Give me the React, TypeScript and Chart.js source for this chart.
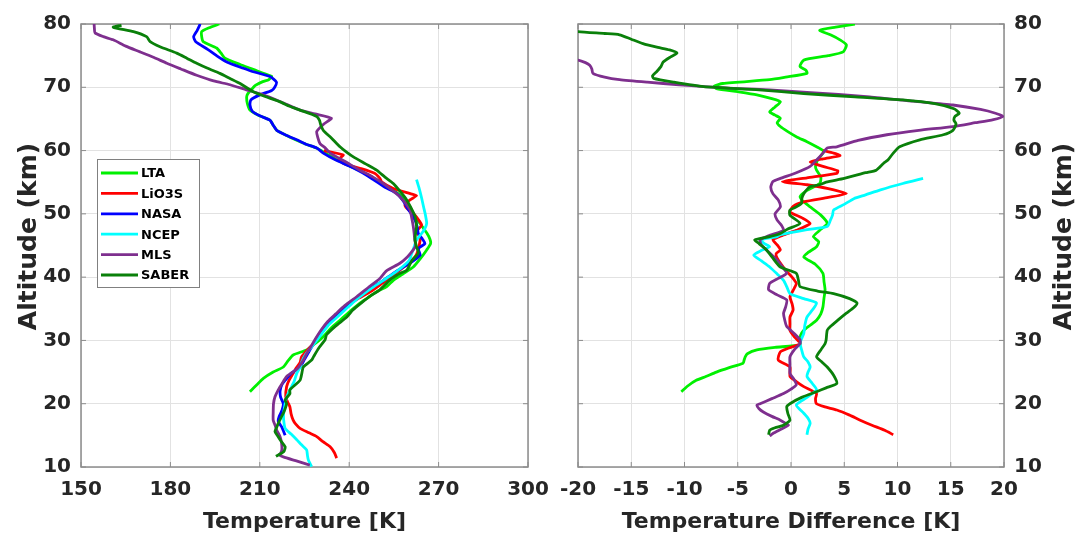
import React, { useEffect, useRef } from 'react';
import { Chart, registerables } from 'chart.js';

Chart.register(...registerables);

// ---------- Left panel: temperature profiles, pairs of [altitude km, temperature K] ----------
const ltaProfile: [number, number][] = [
  [80, 196.4], [79.4, 193], [78.8, 190.5], [78, 190.5], [77.2, 191], [76.2, 195.5], [75.4, 197], [74.6, 198.3],
  [73.6, 203.4], [72.8, 208], [72.2, 211.2], [71.7, 214], [71.2, 213], [70.9, 211], [70.3, 208.5], [69.7, 207.3],
  [69, 206], [68.5, 205.6], [67.5, 205.8], [66.4, 206.7], [65.6, 209.5], [64.8, 213.4], [64, 214.5], [63.2, 215.7],
  [62.5, 218.5], [61.7, 222], [61, 225.5], [60.4, 229], [59.6, 232], [58.5, 236], [57.5, 240.5], [56.5, 245],
  [55.4, 249], [54.2, 253], [53.2, 256.5], [52, 259], [51, 260.5], [50, 261.5], [49, 263], [48, 264.5], [47, 266],
  [46, 267.1], [45.3, 267.3], [44.3, 266], [43, 264], [41.6, 261.5], [40.5, 258], [39.5, 254.8], [38.5, 252.6],
  [37.7, 249.2], [36.8, 246.5], [35.9, 243.6], [34.5, 240], [33.2, 236.9], [32, 234], [30.6, 231.3], [29.5, 228.5],
  [28.5, 225.7], [27.7, 221.2], [26.8, 219.5], [25.8, 217.9], [25, 214.5], [24, 211.2], [23, 209], [21.9, 206.7],
];
const lio3sProfile: [number, number][] = [
  [60, 231.5], [59.3, 238], [58.6, 236.5], [57.9, 238.5], [57.2, 243.6], [56.4, 248.5], [55.6, 250.3], [55, 251],
  [54, 254.8], [53.2, 260.5], [52.9, 262.6], [52.2, 260.4], [51.4, 258.7], [50.8, 259.5], [49.8, 262.1], [48.9, 263.5],
  [48.2, 264.3], [47.2, 262.6], [46.5, 263.5], [45.9, 263.8], [45, 263.5], [44.3, 263.2], [43.2, 262.1], [42.2, 260],
  [41.2, 257.2], [40.2, 254.5], [39, 251], [37.8, 247.5], [36.6, 243], [35.5, 239.5], [34.2, 236], [33, 233.2],
  [31.8, 231.1], [30.6, 229.3], [29.5, 228], [28.5, 226], [27.4, 224], [26.5, 223.5], [25.5, 222], [24.8, 221.2],
  [23.7, 219.8], [22.7, 219], [21.1, 218.7], [20.3, 219.3], [19.5, 220.1], [18.4, 220.5], [17.4, 221.2], [16.8, 222],
  [16.1, 223.5], [15.4, 226.5], [14.8, 229.1], [14, 231.2], [13.2, 233.6], [12.3, 235], [11.4, 235.8],
];
const nasaProfile: [number, number][] = [
  [80, 190], [79, 189], [78, 187.8], [77.2, 188.5], [76, 192.5], [75, 195.5], [74, 198.9], [73, 204.5], [72.5, 207.5],
  [71.7, 213.4], [70.8, 215.6], [70, 215], [69.5, 214], [68.8, 210], [68, 207], [67.2, 206.7], [66.2, 207.5],
  [65.5, 210], [64.8, 213.4], [64, 214.5], [63.2, 215.7], [62.5, 218.5], [61.7, 222.4], [61, 225.5], [60.4, 229.1],
  [59.6, 231.3], [58.5, 235.5], [57.5, 240.3], [56.5, 244.5], [55.4, 248.1], [54.2, 252], [53.2, 256], [52, 258.2],
  [51.1, 259.3], [50, 260.8], [49, 262.1], [48, 262.8], [46.9, 263.2], [46, 264.6], [45.3, 265.4], [44.5, 263.2],
  [43.5, 263.8], [42.2, 260.4], [41.4, 257.5], [40.6, 254.8], [39.5, 251.5], [38.5, 248.1], [37.5, 245], [36.4, 241.4],
  [35, 238], [33.7, 234.7], [32.4, 232.3], [31.1, 230.2], [29.8, 228.5], [28.5, 226.8], [27, 225], [25.8, 223.5],
  [24.8, 220.5], [23.7, 218.5], [23, 217.4], [22, 216.8], [21, 217], [20, 217.9], [19, 217.5], [18, 216.5],
  [17.2, 216.2], [16.2, 217.5], [15.6, 218], [15, 218.5],
];
const ncepProfile: [number, number][] = [
  [55.4, 262.6], [54, 263.5], [52.5, 264.3], [51, 265], [50, 265.5], [48.5, 266], [47.6, 265.3], [46.9, 264.3],
  [45.8, 262.5], [44.8, 261.8], [43.8, 261], [42.7, 260.2], [41.6, 257.8], [40.5, 254.7], [39.5, 251.5], [38.5, 248.3],
  [37.4, 245], [36.3, 242], [35, 239], [33.7, 236], [32.4, 233], [31, 230.7], [29.8, 228.8], [28.5, 226.5],
  [27.5, 225], [26.5, 224], [25.8, 223.6], [24.8, 222.4], [23.5, 221.5], [22.2, 220.1], [21, 219], [20, 218.5],
  [18.5, 218], [17.5, 218], [16.1, 218.5], [15.2, 220.5], [14.3, 222.4], [13.5, 224], [12.7, 225.7], [11.8, 226],
  [11.1, 226.3], [10.05, 227.4],
];
const mlsProfile: [number, number][] = [
  [80, 154.4], [79.3, 154.5], [78.6, 154.7], [78, 157.5], [77.5, 160.8], [76.5, 165], [75.6, 169.8], [74.7, 174.5],
  [73.8, 178.8], [72.9, 183.5], [71.9, 188.8], [71, 194.5], [70.4, 200], [69.6, 205.5], [68.8, 211.2], [67.6, 217.5],
  [66.4, 223.5], [65.8, 228.5], [65.1, 234], [64.2, 231.5], [63, 229.1], [62, 229.5], [61.1, 230.2], [60.4, 232],
  [59.6, 233.6], [58.3, 238.5], [56.9, 243.6], [55.8, 248], [54.8, 251.4], [53.7, 254.5], [52.7, 257], [51.6, 259],
  [50.6, 260.4], [49.3, 261], [48, 261.5], [46.9, 261.8], [45.9, 262], [45, 262.3], [44.3, 261.5], [43.2, 259.5],
  [42.2, 257], [41, 252.5], [39.8, 250.3], [38.4, 246.5], [36.9, 242.5], [35.5, 238.5], [34.2, 235.5], [33, 232.8],
  [31.8, 230.8], [30.5, 229], [29.3, 227.5], [28, 225.8], [26.8, 224.5], [25.5, 222.5], [24.3, 219], [23.2, 217.5],
  [22.2, 216.2], [21.1, 215.1], [20, 214.6], [18.7, 214.5], [17.4, 214.5], [16.5, 215.2], [15.8, 215.7], [14.8, 216.8],
  [13.8, 217.3], [12.7, 217.4], [12.2, 217], [11.9, 216.5], [11.6, 217.9], [11, 222], [10.3, 226.8],
];
const saberProfile: [number, number][] = [
  [79.8, 163.6], [79.5, 160.8], [78.8, 167.6], [78, 172], [77.2, 173.2], [76.4, 176.5], [75.4, 182.1], [74.6, 185.5],
  [73.8, 188.8], [73, 192.5], [72.2, 196.6], [71.4, 200], [70.6, 203.4], [69.3, 207.8], [68.5, 212], [67.7, 216.8],
  [67, 220], [66.4, 223.5], [65.4, 229.1], [64.8, 230], [64, 230.5], [63.2, 231.3], [62, 234], [60.6, 236.9],
  [59.8, 239], [59, 241.4], [57.9, 245.5], [56.9, 249.2], [55.8, 252], [54.8, 254.8], [53.5, 257.2], [52.2, 259.3],
  [50.9, 260.8], [49.6, 262.1], [48, 262.6], [47, 262.3], [45.9, 262.1], [44.8, 262.6], [43.8, 263.2], [42.6, 261],
  [41.1, 259.3], [40.6, 257], [39.5, 253.5], [38, 250.3], [37, 247], [35.9, 244], [34.8, 241.2], [33.7, 239.2],
  [32.3, 235.5], [30.9, 232.4], [30.1, 231.9], [28.8, 229.8], [27.4, 228], [26.9, 227.4], [25.8, 224.6], [24.8, 224.1],
  [23.7, 223.5], [22.2, 220.1], [21.6, 220.1], [20.6, 218.5], [20, 219], [19.2, 218.5], [18.5, 217.9], [17.7, 217],
  [16.9, 216.2], [16.2, 215.6], [15.6, 215.1], [14.9, 216], [14.3, 216.8], [13.2, 218.5], [12.4, 218], [11.7, 215.4],
];

// ---------- Right panel: temperature differences, pairs of [altitude km, difference K] ----------
const ltaDiff: [number, number][] = [
  [80, 6.0], [79.5, 4.2], [79, 2.7], [78.3, 3.7], [77.5, 4.6], [76.7, 5.2], [75.6, 4.9], [75, 3.5], [74.3, 1.2],
  [73.3, 0.85], [72.7, 1.4], [72.2, 1.5], [71.6, -0.5], [71.2, -2], [70.6, -6.4], [70.2, -7.2], [69.8, -7], [69.3, -5],
  [68.8, -3.2], [68.2, -1.8], [67.7, -1], [66.9, -1.5], [66.1, -2], [65.6, -1.5], [65.1, -1], [64.4, -1.3], [63.8, -1],
  [63, -0.3], [62.2, 0.5], [61.4, 1.5], [60.6, 2.4], [60, 3.0], [59.6, 3.0], [58.5, 2.5], [57.5, 2.3], [56.9, 2.4],
  [55.8, 2.8], [54.8, 2.7], [53.7, 1.5], [52.7, 0.85], [51.9, 1.2], [51.1, 1.8], [49.8, 2.8], [48.5, 3.4], [47.4, 2.7],
  [46.4, 2.1], [45.6, 2.6], [44.8, 2.4], [43.9, 1.6], [43.2, 1.2], [42, 2.3], [40.6, 3.0], [39.3, 3.1], [38, 3.2],
  [36.7, 3.1], [35.3, 3.0], [34.2, 2.8], [33.2, 2.4], [32.4, 1.8], [31.6, 1.2], [30.8, 0.9], [30.1, 0.85], [29.3, 0.85],
  [28.9, -1.5], [28.5, -3.2], [27.9, -4.1], [27.4, -4.3], [26.9, -4.4], [26.4, -4.5], [25.7, -5.8], [25, -7],
  [24.3, -8], [23.7, -8.9], [22.8, -9.7], [21.9, -10.3],
];
const lio3sDiff: [number, number][] = [
  [60, 3.0], [59.6, 4.0], [59.2, 4.6], [58.7, 3.0], [58.2, 1.8], [57.5, 3.0], [56.8, 4.4], [56.4, 4.3], [55.7, 1.5],
  [55.1, -0.8], [54.6, 1.5], [54, 3.5], [53.2, 5.2], [52.6, 3.5], [51.9, 1.2], [51.2, 0.2], [50.3, -0.1], [49.4, 1.0],
  [48.5, 1.8], [47.4, 0.5], [46.6, -0.8], [45.9, -1.7], [45.1, -1.3], [44.3, -1.0], [43.7, -1.4], [43, -1.3],
  [42, -0.9], [40.9, -0.4], [40, 0.1], [39, 0.5], [37.9, 0.2], [36.9, -0.1], [35.8, 0.1], [34.8, 0.2], [33.7, -0.1],
  [32.6, -0.1], [31.6, -0.1], [30.6, 0.3], [29.5, 0.85], [28.8, -0.2], [28.2, -1.0], [26.9, -1.2], [25.8, -0.1],
  [24.3, -0.1], [23.5, 0.5], [22.7, 1.2], [21.6, 2.4], [20.8, 2.3], [20, 2.4], [19.5, 3.2], [19, 4.3], [18.2, 5.5],
  [17.4, 6.5], [16.6, 7.6], [15.8, 8.8], [15.1, 9.6],
];
const ncepDiff: [number, number][] = [
  [55.6, 12.4], [54.8, 10.5], [53.8, 8.4], [53, 7], [52.4, 5.9], [51.5, 5], [50.6, 4.0], [49.8, 3.9], [49, 3.7],
  [48, 3.4], [47.5, 1.5], [46.7, -1.0], [46.4, -1.3], [45.9, -2.9], [45.3, -2.5], [44.8, -2.0], [44.2, -2.8],
  [43.5, -3.5], [42.6, -2.8], [41.6, -2.0], [40.5, -1.3], [39.5, -0.7], [38.5, -0.4], [37.4, -0.1], [36.6, 1.2],
  [35.9, 2.4], [34.8, 2.0], [33.7, 1.5], [32.4, 1.3], [31.1, 1.2], [30.3, 1.0], [29.5, 0.85], [28.5, 1.0], [27.4, 1.2],
  [26.6, 1.6], [25.8, 1.8], [25, 1.6], [24.3, 1.5], [23.2, 2.0], [22.2, 2.4], [21, 1.5], [19.8, 0.5], [18.5, 1.2],
  [17.7, 1.6], [16.9, 1.8], [16, 1.6], [15.1, 1.5],
];
const mlsDiff: [number, number][] = [
  [75.5, -24], [74.3, -20], [73.9, -19.3], [73.5, -18.9], [72.9, -18.7], [72.2, -18.6], [71.6, -17.5], [71.2, -16.1],
  [70.8, -13.5], [70.4, -10.5], [70.1, -8.2], [69.8, -5], [69.6, -2], [69.2, 1.5], [68.5, 7.4], [67.8, 11.5],
  [67.2, 15.2], [66.5, 17.8], [65.9, 19.2], [65.4, 19.9], [64.9, 19], [64.4, 17.3], [63.8, 15.2], [63.2, 12],
  [62.5, 9], [61.6, 6.3], [60.6, 4.3], [60.4, 3.4], [59.6, 3.0], [58.5, 2.4], [57.5, 1.8], [56.5, 0.5], [55.6, -1.0],
  [55.1, -1.7], [54.2, -1.9], [53.2, -1.7], [52.2, -1.2], [51.1, -1.0], [50, -1.5], [49, -1.3], [48.2, -0.9],
  [47.4, -0.7], [46.6, -2], [45.9, -2.9], [45.1, -2.8], [44.3, -2.3], [43.5, -1.8], [42.7, -1.3], [41.6, -0.8],
  [40.6, -0.4], [39.8, -1.2], [39, -2.0], [38, -2.1], [37.2, -1.3], [36.4, -0.4], [35.3, -0.5], [34.3, -0.7],
  [33.3, -0.6], [32.2, -0.4], [31.1, 0.3], [30.1, 0.85], [29.5, 0.85], [28.5, 0.3], [27.4, -0.1], [26.2, -0.1],
  [24.8, -0.1], [23.8, 0.3], [23, 0.5], [22.3, 0], [21.6, -0.7], [20.8, -1.8], [20, -2.9], [19.8, -3.2], [19.2, -3.0],
  [18.7, -2.6], [18, -1.8], [17.4, -1.0], [16.9, -0.5], [16.6, -0.25], [16, -0.9], [15.3, -1.7], [14.9, -2.0],
];
const saberDiff: [number, number][] = [
  [79.3, -22], [78.8, -20], [78.5, -17.5], [78.3, -16.1], [77.6, -15], [76.9, -13.9], [76.3, -12.5], [75.9, -11.4],
  [75.4, -10.7], [74.8, -11.3], [74, -12], [73.3, -12.2], [72.5, -12.6], [71.8, -13], [71.4, -12.9], [70.8, -11],
  [70.1, -8.2], [69.6, -3], [69, 1.2], [68.5, 6], [68, 10.5], [67.4, 13.5], [66.6, 15.3], [65.9, 15.8], [65.4, 15.4],
  [64.8, 15.3], [64.2, 15.5], [63.2, 15.2], [62.5, 14.3], [61.7, 12.1], [60.6, 10.2], [59.6, 9.6], [58.5, 9.1],
  [58, 8.7], [56.9, 8.0], [56.5, 7.0], [55.6, 5.0], [55, 3.3], [54.6, 2.7], [54.3, 1.8], [53.2, 1.2], [52.3, 1.0],
  [51.7, 1.0], [51.1, 0.5], [50.6, -0.1], [49.8, -0.1], [48.5, 0.85], [47.6, -0.3], [46.9, -1.0], [46.4, -2.0],
  [45.9, -3.4], [45.3, -3.0], [44.3, -2.3], [43, -1.7], [41.6, -1.0], [40.6, 0.5], [39.5, 0.7], [38.5, 0.85],
  [37.8, 2.5], [37.4, 4.0], [36.6, 5.5], [35.9, 6.2], [35.2, 5.9], [34.3, 5.2], [33.2, 4.4], [32.2, 3.7], [31.6, 3.4],
  [30.1, 3.3], [29.5, 3.2], [28.5, 2.8], [27.4, 2.4], [26.6, 2.9], [25.8, 3.4], [24.5, 4.0], [23.2, 4.3], [22.5, 3.3],
  [21.9, 2.4], [21, 1.0], [20, -0.1], [19.5, -0.4], [18.5, -0.3], [17.4, -0.1], [16.6, -0.7], [16.2, -1.5],
  [15.8, -2.0], [15.1, -2.1],
];

const seriesNames = ['LTA', 'LiO3S', 'NASA', 'NCEP', 'MLS', 'SABER'];
const seriesColors = ['#00f000', '#ff0000', '#0000ff', '#00ffff', '#7e2f8e', '#0a800a'];
const tempTicks = [150, 180, 210, 240, 270, 300];
const diffTicks = [-20, -15, -10, -5, 0, 5, 10, 15, 20];
const altTicks = [10, 20, 30, 40, 50, 60, 70, 80];

const FONT = 'DejaVu Sans';
const TEXT = '#262626';
const AXIS = '#8c8c8c';
const GRID = '#e2e2e2';

const toPoints = (p: [number, number][]) => p.map(([a, v]) => ({ x: v, y: a }));

const makeDataset = (idx: number, pts: [number, number][]) => ({
  label: seriesNames[idx],
  data: toPoints(pts),
  borderColor: seriesColors[idx],
  backgroundColor: seriesColors[idx],
  borderWidth: 2.8,
  pointRadius: 0,
  showLine: true,
  tension: 0.2,
  order: 6 - idx,
});

const boxPlugin = {
  id: 'boxTicks',
  beforeDatasetsDraw(chart: any) {
    const { ctx, chartArea: a, scales } = chart;
    ctx.save();
    ctx.strokeStyle = AXIS;
    ctx.lineWidth = 1.5;
    ctx.strokeRect(a.left, a.top, a.right - a.left, a.bottom - a.top);
    ctx.lineWidth = 1;
    const L = 5;
    scales.x.ticks.forEach((t: any) => {
      const px = scales.x.getPixelForValue(t.value);
      ctx.beginPath();
      ctx.moveTo(px, a.bottom); ctx.lineTo(px, a.bottom - L);
      ctx.moveTo(px, a.top); ctx.lineTo(px, a.top + L);
      ctx.stroke();
    });
    scales.y.ticks.forEach((t: any) => {
      const py = scales.y.getPixelForValue(t.value);
      ctx.beginPath();
      ctx.moveTo(a.left, py); ctx.lineTo(a.left + L, py);
      ctx.moveTo(a.right, py); ctx.lineTo(a.right - L, py);
      ctx.stroke();
    });
    ctx.restore();
  },
};

const yTitlePlugin = (x: number) => ({
  id: 'yTitle',
  afterDraw(chart: any) {
    const { ctx, chartArea: a } = chart;
    ctx.save();
    ctx.translate(x, (a.top + a.bottom) / 2 - 9);
    ctx.rotate(-Math.PI / 2);
    ctx.font = `bold 25px "${FONT}"`;
    ctx.fillStyle = TEXT;
    ctx.textAlign = 'center';
    ctx.textBaseline = 'middle';
    ctx.fillText('Altitude (km)', 0, 0);
    ctx.restore();
  },
});

const legendPlugin = {
  id: 'boxLegend',
  afterDraw(chart: any) {
    const { ctx } = chart;
    const x0 = 97, y0 = 159, w = 102, h = 128;
    ctx.save();
    ctx.fillStyle = '#ffffff';
    ctx.fillRect(x0, y0, w, h);
    ctx.strokeStyle = '#808080';
    ctx.lineWidth = 1;
    ctx.strokeRect(x0 + 0.5, y0 + 0.5, w, h);
    ctx.font = `bold 13px "${FONT}"`;
    ctx.textBaseline = 'middle';
    ctx.textAlign = 'left';
    chart.data.datasets.forEach((ds: any, i: number) => {
      const y = 173 + i * 20.4;
      ctx.strokeStyle = ds.borderColor;
      ctx.lineWidth = 2.8;
      ctx.beginPath();
      ctx.moveTo(101, y); ctx.lineTo(138, y);
      ctx.stroke();
      ctx.fillStyle = '#000000';
      ctx.fillText(ds.label, 141, y + 1);
    });
    ctx.restore();
  },
};

const tickFont = { family: FONT, size: 20, weight: 'bold' as const };
const titleFont = { family: FONT, size: 22, weight: 'bold' as const };

function xScale(min: number, max: number, ticks: number[], title: string) {
  return {
    type: 'linear',
    min, max,
    afterBuildTicks: (s: any) => { s.ticks = ticks.map((v) => ({ value: v })); },
    ticks: { font: tickFont, color: TEXT, padding: 11, maxRotation: 0, autoSkip: false },
    grid: { color: GRID, drawTicks: false, lineWidth: 1 },
    border: { display: false },
    title: { display: true, text: title, font: titleFont, color: TEXT, padding: { top: 0, bottom: 5 } },
    afterFit: (s: any) => { s.height = 73; },
  };
}

function yScale(position: 'left' | 'right', width: number) {
  return {
    type: 'linear',
    position,
    min: 10, max: 80,
    afterBuildTicks: (s: any) => { s.ticks = altTicks.map((v) => ({ value: v })); },
    ticks: { font: tickFont, color: TEXT, padding: 10, autoSkip: false },
    grid: { color: GRID, drawTicks: false, lineWidth: 1 },
    border: { display: false },
    afterFit: (s: any) => { s.width = width; },
  };
}

function leftConfig(): any {
  return {
    type: 'scatter',
    data: {
      datasets: [
        makeDataset(0, ltaProfile), makeDataset(1, lio3sProfile), makeDataset(2, nasaProfile),
        makeDataset(3, ncepProfile), makeDataset(4, mlsProfile), makeDataset(5, saberProfile),
      ],
    },
    options: {
      animation: false, responsive: false, maintainAspectRatio: false,
      layout: { padding: { left: 0, right: 32, top: 24, bottom: 0 } },
      plugins: { legend: { display: false }, tooltip: { enabled: false } },
      scales: { x: xScale(150, 300, tempTicks, 'Temperature [K]'), y: yScale('left', 81) },
    },
    plugins: [boxPlugin, legendPlugin, yTitlePlugin(29)],
  };
}

function rightConfig(): any {
  return {
    type: 'scatter',
    data: {
      datasets: [
        makeDataset(0, ltaDiff), makeDataset(1, lio3sDiff), makeDataset(3, ncepDiff),
        makeDataset(4, mlsDiff), makeDataset(5, saberDiff),
      ],
    },
    options: {
      animation: false, responsive: false, maintainAspectRatio: false,
      layout: { padding: { left: 38, right: 0, top: 24, bottom: 0 } },
      plugins: { legend: { display: false }, tooltip: { enabled: false } },
      scales: { x: xScale(-20, 20, diffTicks, 'Temperature Difference [K]'), y: yScale('right', 73) },
    },
    plugins: [boxPlugin, yTitlePlugin(1064 - 540)],
  };
}

function Panel({ left, width, config }: { left: number; width: number; config: () => any }) {
  const ref = useRef<HTMLCanvasElement>(null);
  useEffect(() => {
    const chart = new Chart(ref.current as HTMLCanvasElement, config());
    return () => chart.destroy();
  }, []);
  return (
    <canvas
      ref={ref}
      width={width}
      height={540}
      style={{ position: 'absolute', left, top: 0, width, height: 540 }}
    />
  );
}

export default function App() {
  return (
    <div style={{ position: 'fixed', left: 0, top: 0, width: 1077, height: 540, background: '#ffffff', overflow: 'hidden' }}>
      <Panel left={0} width={560} config={leftConfig} />
      <Panel left={540} width={537} config={rightConfig} />
    </div>
  );
}
